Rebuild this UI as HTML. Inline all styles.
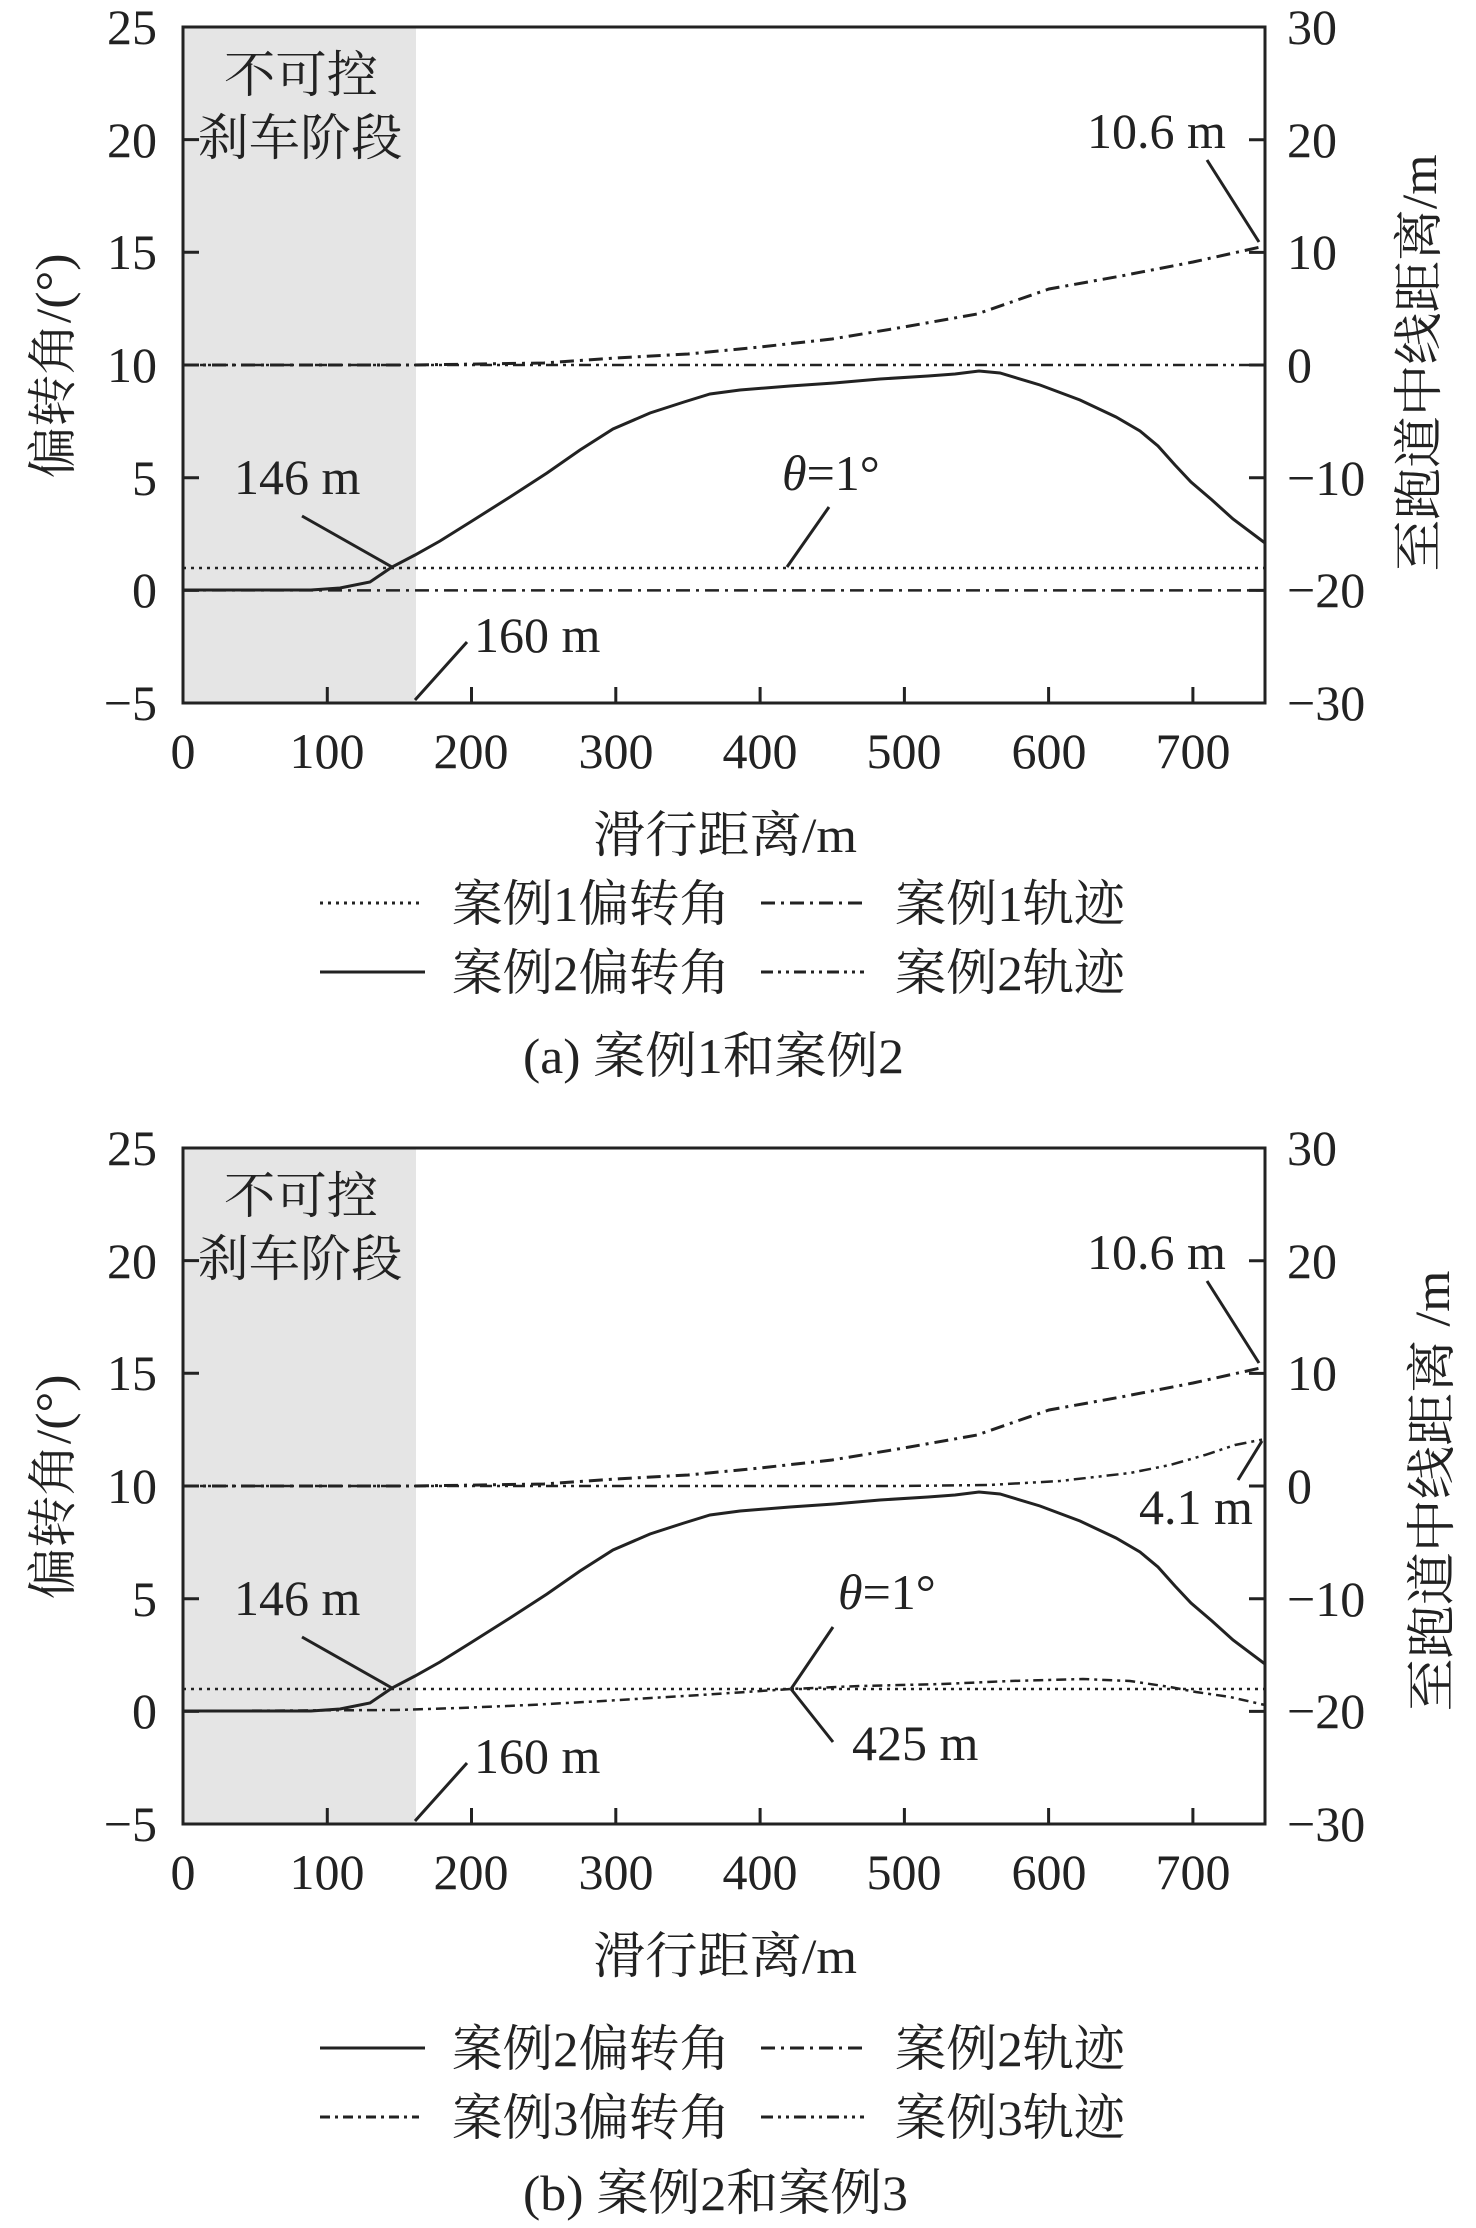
<!DOCTYPE html>
<html><head><meta charset="utf-8"><style>
html,body{margin:0;padding:0;background:#fff}
svg{display:block}
text{font-family:"Liberation Serif","Noto Serif CJK SC","Noto Sans CJK SC",serif;fill:#222;font-size:50px}
.cjk{font-family:"Liberation Serif","Noto Serif CJK SC","Noto Sans CJK SC",serif}
</style></head><body>
<svg width="1476" height="2228" viewBox="0 0 1476 2228" xmlns="http://www.w3.org/2000/svg">
<defs>
<g id="frame">
  <rect x="183" y="27" width="233" height="676" fill="#e5e5e5"/>
  <g stroke="#222" stroke-width="3" fill="none">
    <rect x="183" y="27" width="1082" height="676"/>
    <!-- left ticks -->
    <path d="M183,139.6h16M183,252.3h16M183,477.7h16M183,365h16M183,590.4h16"/>
    <!-- right ticks -->
    <path d="M1265,139.7h-16M1265,252.4h-16M1265,365h-16M1265,477.7h-16M1265,590.4h-16"/>
    <!-- x ticks -->
    <path d="M327.3,703v-16M471.5,703v-16M615.8,703v-16M760.1,703v-16M904.4,703v-16M1048.6,703v-16M1192.9,703v-16"/>
  </g>
  <g text-anchor="end">
    <text x="157" y="44">25</text><text x="157" y="157">20</text><text x="157" y="269">15</text>
    <text x="157" y="382">10</text><text x="157" y="495">5</text><text x="157" y="607">0</text>
    <text x="157" y="720">−5</text>
  </g>
  <g>
    <text x="1287" y="44">30</text><text x="1287" y="157">20</text><text x="1287" y="269">10</text>
    <text x="1287" y="382">0</text><text x="1287" y="495">−10</text><text x="1287" y="607">−20</text>
    <text x="1287" y="720">−30</text>
  </g>
  <g text-anchor="middle">
    <text x="183" y="768">0</text><text x="327" y="768">100</text><text x="471" y="768">200</text>
    <text x="616" y="768">300</text><text x="760" y="768">400</text><text x="904" y="768">500</text>
    <text x="1049" y="768">600</text><text x="1193" y="768">700</text>
  </g>
  <text x="725" y="852" text-anchor="middle" class="cjk" textLength="264" lengthAdjust="spacingAndGlyphs">滑行距离/m</text>
  <text transform="translate(70,366) rotate(-90)" text-anchor="middle" class="cjk" textLength="225" lengthAdjust="spacingAndGlyphs">偏转角/(°)</text>
  <text x="301" y="92" text-anchor="middle" class="cjk" textLength="154" lengthAdjust="spacingAndGlyphs">不可控</text>
  <text x="300" y="155" text-anchor="middle" class="cjk" textLength="205" lengthAdjust="spacingAndGlyphs">刹车阶段</text>
  <!-- dotted 1 deg -->
  <line x1="183" y1="568" x2="1265" y2="568" stroke="#222" stroke-width="2.5" stroke-dasharray="3 5"/>
  <!-- solid case2 deflection -->
  <polyline fill="none" stroke="#222" stroke-width="3" points="183,590 311,590 340,588 370,582 392,567 415,555 440,541 472,521 510,497 547,473 580,450 613,429 650,413 684,402 710,394 740,390 790,386 834,383 880,379 928,376 955,374 979,371 1000,373 1040,385 1080,400 1116,417 1140,431 1158,446 1175,465 1191,482 1212,500 1233,519 1265,543"/>
  <!-- rising trajectory -->
  <polyline fill="none" stroke="#222" stroke-width="3" stroke-dasharray="14 6 3 6" points="183,365 414,365 544,363 616,358 688,354 760,347 832,339 904,327 977,314 1049,289 1121,276 1193,262 1265,246"/>
  <!-- annotations -->
  <g stroke="#222" stroke-width="3">
    <line x1="302" y1="516" x2="392" y2="567"/>
    <line x1="467" y1="642" x2="415" y2="700"/>
    <line x1="1207" y1="160" x2="1259" y2="242"/>
  </g>
  <text x="234" y="494">146 m</text>
  <text x="474" y="652">160 m</text>
  <text x="1087" y="148">10.6 m</text>
</g>
</defs>

<!-- Panel a -->
<use href="#frame"/>
<line x1="183" y1="365" x2="1265" y2="365" stroke="#222" stroke-width="2.5" stroke-dasharray="12 5 3 5 3 5"/>
<line x1="183" y1="590.4" x2="1265" y2="590.4" stroke="#222" stroke-width="2.5" stroke-dasharray="14 6 3 6"/>
<line x1="829" y1="507" x2="787" y2="567" stroke="#222" stroke-width="3"/>
<text x="782" y="490"><tspan font-style="italic">θ</tspan>=1°</text>
<g transform="translate(1418,363) rotate(-90)"><text text-anchor="middle" class="cjk" textLength="417" lengthAdjust="spacingAndGlyphs" y="18">至跑道中线距离/m</text></g>

<!-- legend a -->
<g stroke="#222" stroke-width="3" fill="none">
  <line x1="320" y1="903" x2="419" y2="903" stroke-dasharray="3 5"/>
  <line x1="761" y1="903" x2="864" y2="903" stroke-dasharray="14 6 3 6"/>
  <line x1="320" y1="972" x2="425" y2="972"/>
  <line x1="761" y1="972" x2="864" y2="972" stroke-dasharray="12 5 3 5 3 5"/>
</g>
<text x="452" y="921" textLength="278" lengthAdjust="spacingAndGlyphs">案例1偏转角</text>
<text x="895" y="921" textLength="230" lengthAdjust="spacingAndGlyphs">案例1轨迹</text>
<text x="452" y="990" textLength="278" lengthAdjust="spacingAndGlyphs">案例2偏转角</text>
<text x="895" y="990" textLength="230" lengthAdjust="spacingAndGlyphs">案例2轨迹</text>
<text x="523" y="1073" textLength="381" lengthAdjust="spacingAndGlyphs">(a) 案例1和案例2</text>

<!-- Panel b -->
<g transform="translate(0,1121)">
<use href="#frame"/>
<!-- case3 trajectory -->
<polyline fill="none" stroke="#222" stroke-width="2.5" stroke-dasharray="12 5 3 5 3 5" points="183,365 900,365 989,364 1060,360 1130,352 1170,344 1205,334 1235,324 1265,318"/>
<!-- case3 deflection -->
<polyline fill="none" stroke="#222" stroke-width="2.5" stroke-dasharray="10 5 3 5" points="183,590 395,589 460,587 530,584 603,580 700,574 791,568 860,565 942,563 1010,560 1083,558 1130,560 1170,566 1196,571 1230,576 1265,584"/>
<g stroke="#222" stroke-width="3">
  <line x1="1262" y1="320" x2="1238" y2="359"/>
  <line x1="833" y1="506" x2="791" y2="568"/>
  <line x1="791" y1="568" x2="833" y2="621"/>
</g>
<text x="1139" y="403">4.1 m</text>
<text x="838" y="488"><tspan font-style="italic">θ</tspan>=1°</text>
<text x="852" y="639">425 m</text>
<g transform="translate(1431,370) rotate(-90)"><text text-anchor="middle" class="cjk" textLength="441" lengthAdjust="spacingAndGlyphs" y="18">至跑道中线距离 /m</text></g>
</g>

<!-- legend b -->
<g stroke="#222" stroke-width="3" fill="none">
  <line x1="320" y1="2048" x2="425" y2="2048"/>
  <line x1="761" y1="2048" x2="864" y2="2048" stroke-dasharray="14 6 3 6"/>
  <line x1="320" y1="2117" x2="419" y2="2117" stroke-dasharray="10 5 3 5"/>
  <line x1="761" y1="2117" x2="864" y2="2117" stroke-dasharray="12 5 3 5 3 5"/>
</g>
<text x="452" y="2066" textLength="278" lengthAdjust="spacingAndGlyphs">案例2偏转角</text>
<text x="895" y="2066" textLength="230" lengthAdjust="spacingAndGlyphs">案例2轨迹</text>
<text x="452" y="2135" textLength="278" lengthAdjust="spacingAndGlyphs">案例3偏转角</text>
<text x="895" y="2135" textLength="230" lengthAdjust="spacingAndGlyphs">案例3轨迹</text>
<text x="523" y="2210" textLength="385" lengthAdjust="spacingAndGlyphs">(b) 案例2和案例3</text>
</svg>
</body></html>
